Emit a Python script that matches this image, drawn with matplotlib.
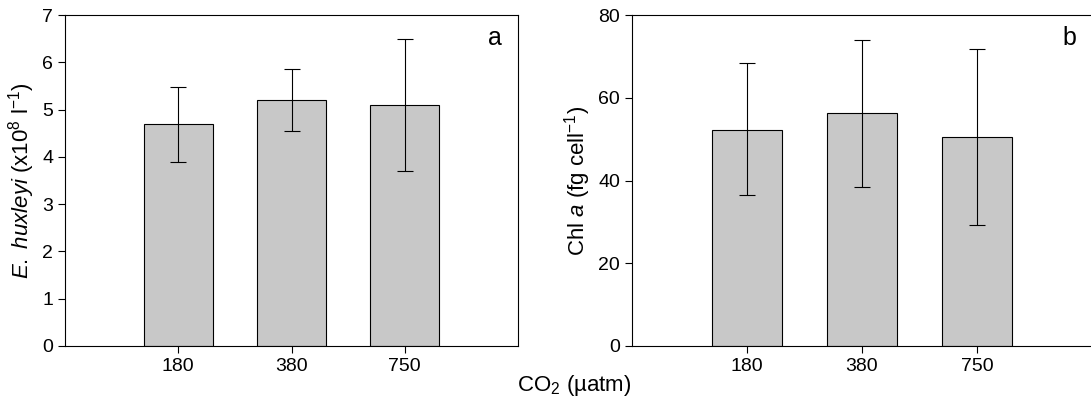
import matplotlib.pyplot as plt

plt.rcParams['font.family'] = ['Liberation Sans', 'DejaVu Sans']
plt.rcParams['font.size'] = 14
plt.rcParams['mathtext.fontset'] = 'custom'
plt.rcParams['mathtext.rm'] = 'Liberation Sans'
plt.rcParams['mathtext.it'] = 'Liberation Sans:italic'

co2_levels = ['180', '380', '750']
cell_density = [4.7, 5.2, 5.1]
cell_low = [3.9, 4.55, 3.7]
cell_high = [5.47, 5.85, 6.5]
chl_a = [52.3, 56.2, 50.4]
chl_low = [36.5, 38.5, 29.2]
chl_high = [68.5, 74.0, 71.7]

W, H = 1091, 403
fig = plt.figure(figsize=(W / 100, H / 100), dpi=100)


def panel(rect, vals, low, high, ymax, step, ylabel, letter):
    ax = fig.add_axes([rect[0] / W, (H - rect[3]) / H, (rect[1] - rect[0]) / W, (rect[3] - rect[2]) / H])
    x = [1, 2, 3]
    err = [[v - l for v, l in zip(vals, low)], [h - v for v, h in zip(vals, high)]]
    ax.bar(x, vals, width=0.61, color='#c8c8c8', edgecolor='black', linewidth=0.8,
           yerr=err, error_kw=dict(ecolor='black', elinewidth=0.8, capsize=6, capthick=0.8))
    ax.set_xlim(0, 4)
    ax.set_ylim(0, ymax)
    ax.set_yticks(range(0, ymax + 1, step))
    ax.set_xticks(x)
    ax.set_xticklabels(co2_levels)
    ax.tick_params(direction='out', length=5, width=0.8)
    ax.set_ylabel(ylabel, fontsize=16)
    ax.text(0.965, 0.93, letter, transform=ax.transAxes, ha='right', va='center', fontsize=18)
    return ax


panel((65, 518, 15, 346), cell_density, cell_low, cell_high, 7, 1,
      r'$\it{E.\ huxleyi}$ (x10$^8$ l$^{-1}$)', 'a')
panel((632, 1092, 15, 346), chl_a, chl_low, chl_high, 80, 20,
      r'Chl $\it{a}$ (fg cell$^{-1}$)', 'b')

fig.text(574 / W, 1 - 385 / H, r'CO$_2$ (µatm)', ha='center', va='center', fontsize=16)

fig.savefig('out.png', dpi=100)
